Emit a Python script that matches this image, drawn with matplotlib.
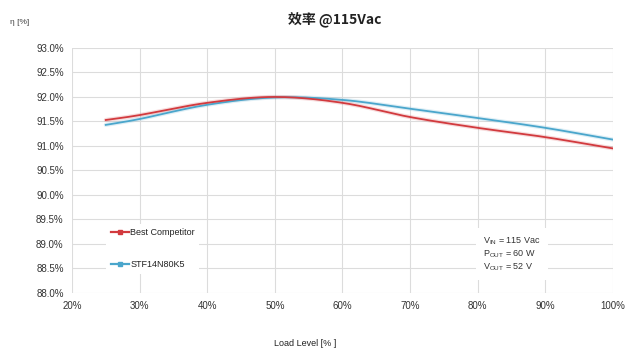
import numpy as np
import matplotlib
matplotlib.use("Agg")
import matplotlib.pyplot as plt
from matplotlib.lines import Line2D

plt.rcParams['font.family'] = ['Liberation Sans', 'Noto Sans CJK SC', 'DejaVu Sans']

load = [25, 30, 40, 50, 60, 70, 80, 90, 100]
competitor = [91.53, 91.63, 91.88, 92.00, 91.88, 91.59, 91.37, 91.18, 90.95]
stf = [91.43, 91.55, 91.84, 91.99, 91.94, 91.76, 91.57, 91.37, 91.13]

x_ticks = [20, 30, 40, 50, 60, 70, 80, 90, 100]
y_ticks = [88.0, 88.5, 89.0, 89.5, 90.0, 90.5, 91.0, 91.5, 92.0, 92.5, 93.0]

RED = "#d23a3e"
BLUE = "#4aa6cc"


def smooth(x, y, n=20):
    """Catmull-Rom style smoothing between consecutive points."""
    x = np.asarray(x, float)
    y = np.asarray(y, float)
    px = np.concatenate([[2 * x[0] - x[1]], x, [2 * x[-1] - x[-2]]])
    py = np.concatenate([[2 * y[0] - y[1]], y, [2 * y[-1] - y[-2]]])
    xs, ys = [], []
    t = np.linspace(0, 1, n, endpoint=False)
    for i in range(1, len(px) - 2):
        p0, p1, p2, p3 = [np.array([px[j], py[j]]) for j in (i - 1, i, i + 1, i + 2)]
        t2, t3 = t * t, t * t * t
        pts = 0.5 * ((2 * p1)[:, None] + (-p0 + p2)[:, None] * t
                     + (2 * p0 - 5 * p1 + 4 * p2 - p3)[:, None] * t2
                     + (-p0 + 3 * p1 - 3 * p2 + p3)[:, None] * t3)
        xs.extend(pts[0]); ys.extend(pts[1])
    xs.append(x[-1]); ys.append(y[-1])
    return np.array(xs), np.array(ys)


fig = plt.figure(figsize=(6.26, 3.5), dpi=100)
ax = fig.add_axes([0.115, 0.163, 0.864, 0.70])

for vals, col in [(stf, BLUE), (competitor, RED)]:
    sx, sy = smooth(load, vals)
    ax.plot(sx, sy, color=col, lw=3.0, alpha=0.18, solid_capstyle='round', zorder=3)
    ax.plot(sx, sy, color=col, lw=1.3, zorder=4)

ax.set_xlim(20, 100)
ax.set_ylim(88.0, 93.0)
ax.set_xticks(x_ticks)
ax.set_xticklabels([f"{v}%" for v in x_ticks])
ax.set_yticks(y_ticks)
ax.set_yticklabels([f"{v:.1f}%" for v in y_ticks])
ax.grid(True, color="#dcdcdc", lw=0.8)
ax.set_axisbelow(True)
for s in ax.spines.values():
    s.set_visible(False)
ax.tick_params(length=0, labelsize=7, colors="#333333", pad=6)

handles = [
    Line2D([], [], color=RED, lw=1.6, marker='s', markersize=3.5),
    Line2D([], [], color=BLUE, lw=1.6, marker='s', markersize=3.5),
]
leg = ax.legend(handles, ["Best Competitor", "STF14N80K5"],
                loc='upper left', bbox_to_anchor=(0.055, 0.30),
                frameon=True, fontsize=6.5, handlelength=2.0, handletextpad=0.15,
                labelspacing=2.5, borderpad=0.5)
leg.get_frame().set_edgecolor('none')
leg.get_frame().set_facecolor('white')
leg.get_frame().set_alpha(1)
for t in leg.get_texts():
    t.set_color("#222222")

ax.text(0.76, 0.235,
        "V$_{\\mathregular{IN}}$ = 115 Vac\n"
        "P$_{\\mathregular{OUT}}$ = 60 W\n"
        "V$_{\\mathregular{OUT}}$ = 52 V",
        transform=ax.transAxes, fontsize=6.5, color="#333333", va='top',
        linespacing=1.2,
        bbox=dict(facecolor='white', edgecolor='none', boxstyle='square,pad=0.8'))

fig.text(0.535, 0.945, "效率 @115Vac", ha='center', va='center', fontsize=10,
         fontweight='bold', color="#222222",
         family=['Noto Sans CJK SC', 'DejaVu Sans'])
fig.text(0.016, 0.937, "η [%]", ha='left', va='center', fontsize=6, color="#444444")
fig.text(0.487, 0.02, "Load Level [% ]", ha='center', va='center', fontsize=6.5,
         color="#222222")

fig.savefig("out.png", dpi=100, facecolor='white')
